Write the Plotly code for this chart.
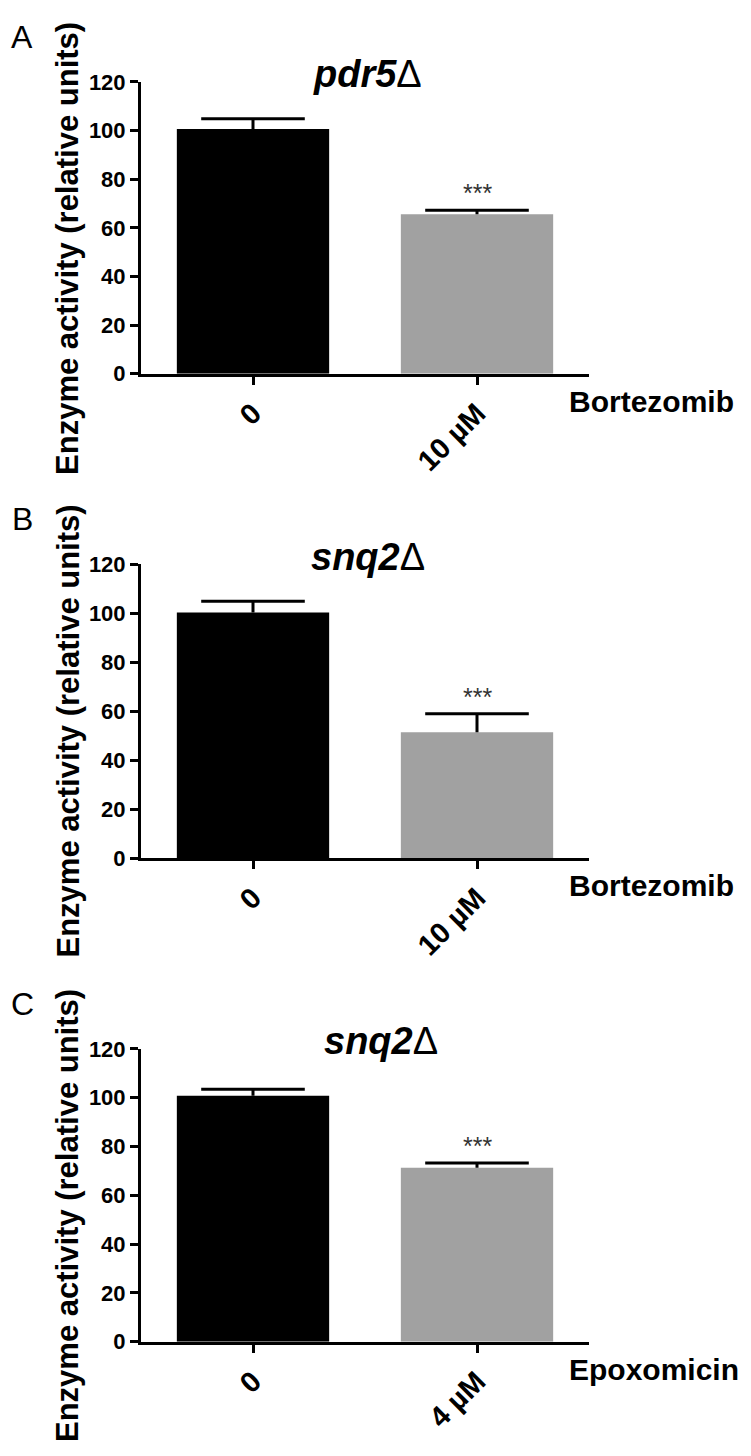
import plotly.graph_objects as go

# the page body has an 8px default margin, so the figure is a bit smaller than the window
PAGE_MARGIN = 8
W, H = 751 - PAGE_MARGIN, 1456 - PAGE_MARGIN
FONT = "Liberation Sans, Arial, Helvetica, sans-serif"

# values (relative units)
panel_letters = ["A", "B", "C"]
strains = ["pdr5", "snq2", "snq2"]
drugs = ["Bortezomib", "Bortezomib", "Epoxomicin"]
doses = [["0", "10 µM"], ["0", "10 µM"], ["0", "4 µM"]]
means = [[100.6, 65.6], [100.4, 51.5], [100.8, 71.3]]
errors = [[4.3, 1.6], [4.6, 7.5], [2.7, 2.0]]
stars = ["***", "***", "***"]
y_ticks = [0, 20, 40, 60, 80, 100, 120]

bar_colors = ["#000000", "#a1a1a1"]

# layout in pixels of the original picture: (top of axis, bottom of axis)
panel_px = [(71, 368), (562, 861), (1055, 1353)]
title_x_px = [367, 368, 381]
x_px = (141, 589)


def px_x(p):
    return (p - PAGE_MARGIN) / W


def px_y(p):
    return 1 - (p - PAGE_MARGIN) / H


fig = go.Figure()
annotations = []
axes = {}

for i in range(3):
    n = "" if i == 0 else str(i + 1)
    xa, ya = "x" + n, "y" + n
    top_px, bot_px = panel_px[i]
    tops = [m + e for m, e in zip(means[i], errors[i])]

    fig.add_trace(go.Bar(
        x=doses[i], y=means[i], width=0.68,
        marker=dict(color=bar_colors, line=dict(width=0)),
        error_y=dict(type="data", symmetric=False, array=errors[i],
                     arrayminus=[0, 0], width=0, thickness=3, color="black"),
        xaxis=xa, yaxis=ya, showlegend=False, hoverinfo="skip"))
    # error bar caps
    fig.add_trace(go.Scatter(
        x=doses[i], y=tops, mode="markers",
        marker=dict(symbol="line-ew", size=74, color="black",
                    line=dict(width=3, color="black")),
        xaxis=xa, yaxis=ya, showlegend=False, cliponaxis=False, hoverinfo="skip"))

    axes["xaxis" + n] = dict(
        domain=[px_x(x_px[0]), px_x(x_px[1])], anchor=ya, type="category",
        range=[-0.5, 1.5], showline=True, linewidth=3, linecolor="black",
        ticks="outside", ticklen=8, tickwidth=3, tickcolor="black",
        tickangle=-45, showgrid=False, zeroline=False, fixedrange=True,
        tickfont=dict(family=FONT, size=29, color="black", weight="bold"))
    axes["yaxis" + n] = dict(
        domain=[px_y(bot_px), px_y(top_px)], anchor=xa, range=[0, 120],
        tickvals=y_ticks, showline=True, linewidth=3, linecolor="black",
        ticks="outside", ticklen=8, tickwidth=3, tickcolor="black",
        showgrid=False, zeroline=False, fixedrange=True,
        tickfont=dict(family=FONT, size=22, color="black", weight="bold"))

    # panel letter
    annotations.append(dict(
        text=panel_letters[i], xref="paper", yref="paper",
        x=px_x(22), y=px_y(top_px - 46), xanchor="center", yanchor="middle",
        showarrow=False, font=dict(family=FONT, size=32, color="black")))
    # strain title
    annotations.append(dict(
        text="<b><i>" + strains[i] + "</i></b>Δ", xref="paper", yref="paper",
        x=px_x(title_x_px[i]), y=px_y(top_px - 8), xanchor="center", yanchor="middle",
        showarrow=False, font=dict(family=FONT, size=38, color="black")))
    # y axis label
    annotations.append(dict(
        text="Enzyme activity (relative units)", xref="paper", yref="paper",
        x=px_x(68), y=px_y(top_px - 58 + 228), textangle=-90,
        xanchor="center", yanchor="middle", showarrow=False,
        font=dict(family=FONT, size=31, color="black", weight="bold")))
    # drug label
    annotations.append(dict(
        text=drugs[i], xref="paper", yref="paper",
        x=px_x(567), y=px_y(bot_px + 28), xanchor="left", yanchor="middle",
        showarrow=False, font=dict(family=FONT, size=30, color="black", weight="bold")))
    # significance
    annotations.append(dict(
        text=stars[i], xref=xa, yref=ya, x=doses[i][1], y=tops[1],
        xanchor="center", yanchor="bottom", yshift=1, showarrow=False,
        font=dict(family=FONT, size=25, color="#333333")))

fig.update_layout(
    width=W, height=H, autosize=False,
    margin=dict(l=0, r=0, t=0, b=0),
    paper_bgcolor="white", plot_bgcolor="white",
    bargap=0.3, annotations=annotations, **axes)

fig.write_html("out.html")
